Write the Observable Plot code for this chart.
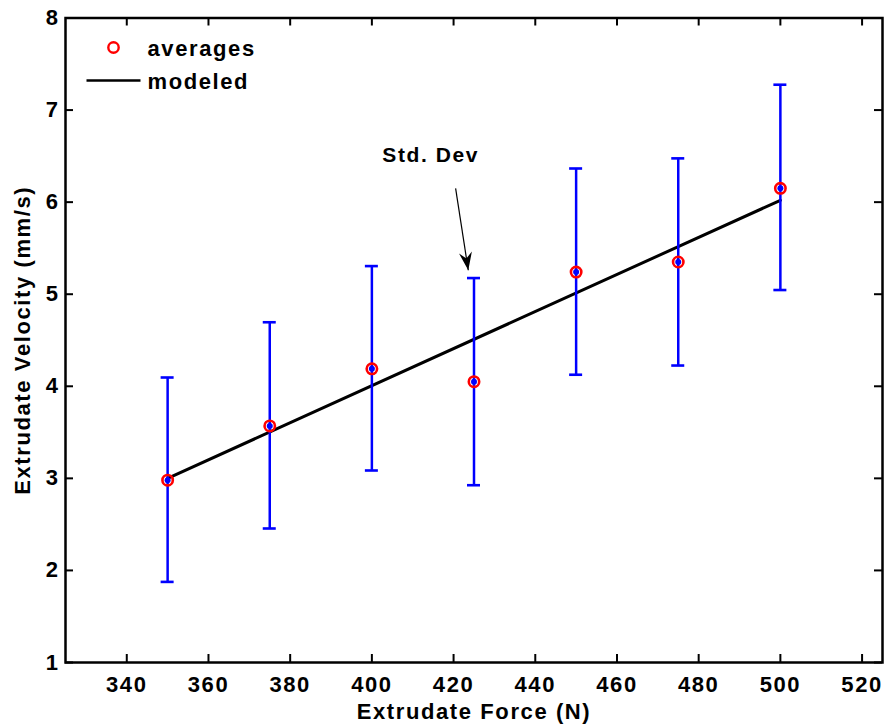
<!DOCTYPE html>
<html>
<head>
<meta charset="utf-8">
<script src="https://cdn.jsdelivr.net/npm/d3@7"></script>
<script src="https://cdn.jsdelivr.net/npm/@observablehq/plot@0.6"></script>
<style>
  html, body { margin: 0; padding: 0; background: #fff; }
  #chart svg text { letter-spacing: 1.6px; }
</style>
</head>
<body>
<div id="chart"></div>
<script>
// ---- data ----
const force = [350, 375, 400, 425, 450, 475, 500];
const avgVelocity = [2.98, 3.57, 4.19, 4.05, 5.24, 5.35, 6.15];
const stdLow = [1.87, 2.45, 3.08, 2.92, 4.12, 4.22, 5.04];
const stdHigh = [4.09, 4.69, 5.30, 5.17, 6.36, 6.47, 7.27];
const modelForce = [350, 500];
const modelVelocity = [3.0, 6.02];
const xTicks = [340, 360, 380, 400, 420, 440, 460, 480, 500, 520];
const yTicks = [1, 2, 3, 4, 5, 6, 7, 8];
const annoText = ["Std. Dev"];
const annoTextPos = [[414.4, 6.51]];
const annoArrow = [[420.5, 6.15, 423.6, 5.26]];
const legendLabels = ["averages", "modeled"];

const pts = force.map((f, i) => ({x: f, y: avgVelocity[i], lo: stdLow[i], hi: stdHigh[i]}));
const model = modelForce.map((f, i) => ({x: f, y: modelVelocity[i]}));
const xDomain = [325, 525];
const yDomain = [1, 8];

const W = 888, H = 728, ML = 65, MR = 6, MT = 17.5, MB = 66;
const frameW = W - ML - MR, frameH = H - MT - MB, TICK = 8;
const tx = TICK * (xDomain[1] - xDomain[0]) / frameW;
const ty = TICK * (yDomain[1] - yDomain[0]) / frameH;
const xTickRows = xTicks.map(v => ({v}));
const yTickRows = yTicks.map(v => ({v}));

const FONT = '"Liberation Sans", Arial, Helvetica, sans-serif';
const blue = "#0000ff";
const red = "#ff0000";
const lineSym = {draw(ctx) { ctx.moveTo(-27, 0); ctx.lineTo(27, 0); }};
const headSym = {draw(ctx) { ctx.moveTo(0, 0); ctx.lineTo(-6.5, -18); ctx.lineTo(0, -12); ctx.lineTo(6.5, -18); ctx.closePath(); }};

const plot = Plot.plot({
  width: W,
  height: H,
  marginLeft: ML,
  marginRight: MR,
  marginTop: MT,
  marginBottom: MB,
  style: {fontFamily: FONT, fontSize: "22px", fontWeight: "bold", color: "#000", background: "#fff"},
  x: {domain: xDomain},
  y: {domain: yDomain},
  marks: [
    Plot.frame({stroke: "#000", fill: "none", strokeWidth: 2.5}),
    // tick labels
    Plot.axisX(xTicks, {anchor: "bottom", tickSize: 0, tickPadding: 14, label: null, fontSize: 22, fontWeight: "bold"}),
    Plot.axisY(yTicks, {anchor: "left", tickSize: 0, tickPadding: 6, tickFormat: d3.format("d"), label: null, fontSize: 22, fontWeight: "bold"}),
    // inward ticks on all four sides
    Plot.ruleX(xTickRows, {x: "v", y1: () => yDomain[0], y2: () => yDomain[0] + ty, stroke: "#000", strokeWidth: 2}),
    Plot.ruleX(xTickRows, {x: "v", y1: () => yDomain[1] - ty, y2: () => yDomain[1], stroke: "#000", strokeWidth: 2}),
    Plot.ruleY(yTickRows, {y: "v", x1: () => xDomain[0], x2: () => xDomain[0] + tx, stroke: "#000", strokeWidth: 2}),
    Plot.ruleY(yTickRows, {y: "v", x1: () => xDomain[1] - tx, x2: () => xDomain[1], stroke: "#000", strokeWidth: 2}),
    // axis titles
    Plot.text(["Extrudate Force (N)"], {frameAnchor: "bottom", dy: 49, textAnchor: "middle", lineAnchor: "middle", fontSize: 22, fontWeight: "bold", fill: "#000"}),
    Plot.text(["Extrudate Velocity (mm/s)"], {frameAnchor: "left", dx: -43, textAnchor: "middle", rotate: -90, lineAnchor: "middle", fontSize: 22, fontWeight: "bold", fill: "#000"}),
    // model line
    Plot.line(model, {x: "x", y: "y", stroke: "#000", strokeWidth: 3}),
    // error bars
    Plot.ruleX(pts, {x: "x", y1: "lo", y2: "hi", stroke: blue, strokeWidth: 2.5}),
    Plot.rect(pts, {x1: "x", x2: "x", y1: "hi", y2: "hi", insetLeft: -6.5, insetRight: -6.5, insetTop: -1.3, insetBottom: -1.3, fill: blue}),
    Plot.rect(pts, {x1: "x", x2: "x", y1: "lo", y2: "lo", insetLeft: -6.5, insetRight: -6.5, insetTop: -1.3, insetBottom: -1.3, fill: blue}),
    // averages
    Plot.dot(pts, {x: "x", y: "y", r: 5.2, stroke: red, strokeWidth: 2.6, fill: "none"}),
    Plot.dot(pts, {x: "x", y: "y", r: 3, fill: blue}),
    // annotation
    Plot.text(annoTextPos, {x: d => d[0], y: d => d[1], text: (d, i) => annoText[i], fontSize: 21, fontWeight: "bold", fill: "#000"}),
    Plot.link(annoArrow, {x1: d => d[0], y1: d => d[1], x2: d => d[2], y2: d => d[3], stroke: "#000", strokeWidth: 1.2}),
    Plot.dot(annoArrow, {x: d => d[2], y: d => d[3], symbol: headSym, r: 5, rotate: -9, fill: "#000", stroke: "none"}),
    // legend
    Plot.dot([0], {frameAnchor: "top-left", dx: 48, dy: 29.5, r: 5.2, stroke: red, strokeWidth: 2.4, fill: "none"}),
    Plot.dot([0], {frameAnchor: "top-left", dx: 48, dy: 62.5, symbol: lineSym, r: 5, stroke: "#000", strokeWidth: 2.5, fill: "none"}),
    Plot.text([legendLabels[0]], {frameAnchor: "top-left", dx: 82, dy: 30.5, textAnchor: "start", lineAnchor: "middle", fontSize: 22, fontWeight: "bold", fill: "#000"}),
    Plot.text([legendLabels[1]], {frameAnchor: "top-left", dx: 82, dy: 63.5, textAnchor: "start", lineAnchor: "middle", fontSize: 22, fontWeight: "bold", fill: "#000"})
  ]
});
document.getElementById("chart").appendChild(plot);
</script>
</body>
</html>
